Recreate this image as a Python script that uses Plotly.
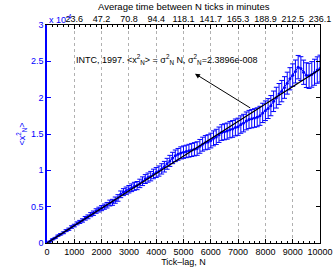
import plotly.graph_objects as go

# Tick-lag N
lag = [100 * i for i in range(1, 101)]
# <x_N^2> in units of 1e-4
msd = [0.02, 0.05, 0.07, 0.10, 0.12, 0.14, 0.17, 0.19, 0.22, 0.24,
       0.27, 0.29, 0.31, 0.34, 0.36, 0.39, 0.41, 0.44, 0.46, 0.48,
       0.50, 0.52, 0.55, 0.56, 0.59, 0.62, 0.67, 0.70, 0.72, 0.74,
       0.76, 0.78, 0.79, 0.82, 0.85, 0.88, 0.90, 0.92, 0.95, 0.97,
       0.99, 1.02, 1.05, 1.09, 1.13, 1.17, 1.20, 1.22, 1.24, 1.25,
       1.26, 1.27, 1.28, 1.29, 1.30, 1.33, 1.36, 1.38, 1.39, 1.41,
       1.44, 1.46, 1.49, 1.52, 1.53, 1.54, 1.56, 1.57, 1.59, 1.60,
       1.63, 1.65, 1.68, 1.70, 1.71, 1.72, 1.73, 1.75, 1.79, 1.82,
       1.85, 1.89, 1.95, 2.00, 2.05, 2.09, 2.14, 2.20, 2.26, 2.31,
       2.36, 2.42, 2.40, 2.35, 2.31, 2.30, 2.32, 2.35, 2.38, 2.40]
msd_err = [0.004, 0.006, 0.007, 0.009, 0.010, 0.012, 0.013, 0.015, 0.017, 0.018,
           0.020, 0.021, 0.023, 0.025, 0.026, 0.028, 0.030, 0.031, 0.033, 0.035,
           0.036, 0.038, 0.040, 0.041, 0.043, 0.045, 0.046, 0.048, 0.050, 0.051,
           0.053, 0.055, 0.056, 0.058, 0.060, 0.061, 0.063, 0.065, 0.066, 0.068,
           0.070, 0.071, 0.073, 0.075, 0.076, 0.078, 0.080, 0.081, 0.083, 0.085,
           0.086, 0.088, 0.090, 0.091, 0.093, 0.095, 0.096, 0.098, 0.100, 0.101,
           0.103, 0.105, 0.106, 0.108, 0.110, 0.111, 0.113, 0.115, 0.116, 0.118,
           0.120, 0.121, 0.123, 0.125, 0.126, 0.128, 0.130, 0.131, 0.133, 0.135,
           0.137, 0.139, 0.141, 0.143, 0.145, 0.147, 0.149, 0.151, 0.153, 0.155,
           0.158, 0.161, 0.164, 0.167, 0.170, 0.173, 0.176, 0.179, 0.182, 0.185]

# Linear fit <x_N^2> = sigma_N^2 * N
sigma2 = 2.3896e-8
fit_x = [0, 10000]
fit_y = [sigma2 * n / 1e-4 for n in fit_x]

bottom_vals = [0, 1000, 2000, 3000, 4000, 5000, 6000, 7000, 8000, 9000, 10000]
# Top axis: average time between N ticks in minutes
top_vals = [1000, 2000, 3000, 4000, 5000, 6000, 7000, 8000, 9000, 10000]
top_text = ["23.6", "47.2", "70.8", "94.4", "118.1", "141.7", "165.3", "188.9", "212.5", "236.1"]

BLUE = "#0000ff"
FONT = "Liberation Sans, Arial, sans-serif"

fig = go.Figure()
fig.add_trace(go.Scatter(
    x=lag, y=msd, mode="lines+markers",
    line=dict(color=BLUE, width=1),
    marker=dict(color=BLUE, size=3),
    error_y=dict(type="data", array=msd_err, color=BLUE, thickness=1, width=2.5),
    showlegend=False, hoverinfo="skip"))
fig.add_trace(go.Scatter(
    x=fit_x, y=fit_y, mode="lines", line=dict(color="black", width=1.2),
    showlegend=False, hoverinfo="skip"))
fig.add_trace(go.Scatter(x=[0, 10000], y=[0, 3], xaxis="x2", yaxis="y2",
                         mode="markers", marker=dict(opacity=0), showlegend=False,
                         hoverinfo="skip"))

fig.update_layout(
    width=334, height=272,
    margin=dict(l=47, r=14, t=25, b=29, autoexpand=False),
    paper_bgcolor="white", plot_bgcolor="white",
    font=dict(family=FONT, size=9, color="black"),
    xaxis=dict(range=[0, 10000], tickvals=bottom_vals, tickformat="d", automargin=False,
               ticks="inside", ticklen=4, tickcolor="black",
               showline=True, linecolor="black", linewidth=1,
               showgrid=True, gridcolor="#b0b0b0", griddash="dot", gridwidth=1,
               zeroline=False,
               minor=dict(ticks="inside", dtick=200, ticklen=2, tickcolor="black", showgrid=False),
               title=dict(text="Tick\u2013lag, N", font=dict(size=9), standoff=2),
               tickfont=dict(size=9)),
    xaxis2=dict(overlaying="x", side="top", range=[0, 10000], automargin=False,
                tickvals=top_vals, ticktext=top_text, ticklabelstandoff=-2,
                ticks="inside", ticklen=4, tickcolor="black",
                showline=True, linecolor="black", linewidth=1,
                showgrid=False, zeroline=False,
                minor=dict(ticks="inside", dtick=200, ticklen=2, tickcolor="black"),
                tickfont=dict(size=9)),
    yaxis=dict(range=[0, 3], dtick=0.5, ticks="inside", ticklen=4, tickcolor=BLUE,
               automargin=False,
               showline=True, linecolor=BLUE, linewidth=1.5,
               showgrid=False, zeroline=False,
               tickfont=dict(size=9, color=BLUE),
               title=dict(text="&lt;x<sup>2</sup><sub>N</sub>&gt;", font=dict(size=9, color=BLUE), standoff=4)),
    yaxis2=dict(overlaying="y", side="right", range=[0, 3], dtick=0.5, automargin=False,
                ticks="inside", ticklen=4, tickcolor="black",
                showline=True, linecolor="black", linewidth=1,
                showticklabels=False, showgrid=False, zeroline=False),
    annotations=[
        dict(text="Average time between N ticks in minutes", xref="paper", yref="paper",
             x=0.5, y=1, yshift=11, yanchor="bottom", showarrow=False,
             font=dict(size=9.5)),
        dict(text="x 10<sup>-4</sup>", xref="paper", yref="paper", x=0, y=1,
             xanchor="left", yanchor="bottom", yshift=-2, showarrow=False,
             font=dict(size=9, color=BLUE)),
        dict(text="INTC, 1997. &lt;x<sup>2</sup><sub>N</sub>&gt; = \u03c3<sup>2</sup><sub>N</sub> N, \u03c3<sup>2</sup><sub>N</sub>=2.3896e-008",
             xref="x", yref="y", x=990, y=2.52, xanchor="left", yanchor="middle",
             showarrow=False, font=dict(size=9)),
        dict(text="", xref="x", yref="y", x=5420, y=2.33, axref="x", ayref="y",
             ax=7500, ay=1.846, showarrow=True, arrowhead=2, arrowsize=1,
             arrowwidth=1, arrowcolor="black"),
    ],
)

fig.write_html("out.html", config={"displayModeBar": False},
               post_script="document.body.style.margin='0px';")
